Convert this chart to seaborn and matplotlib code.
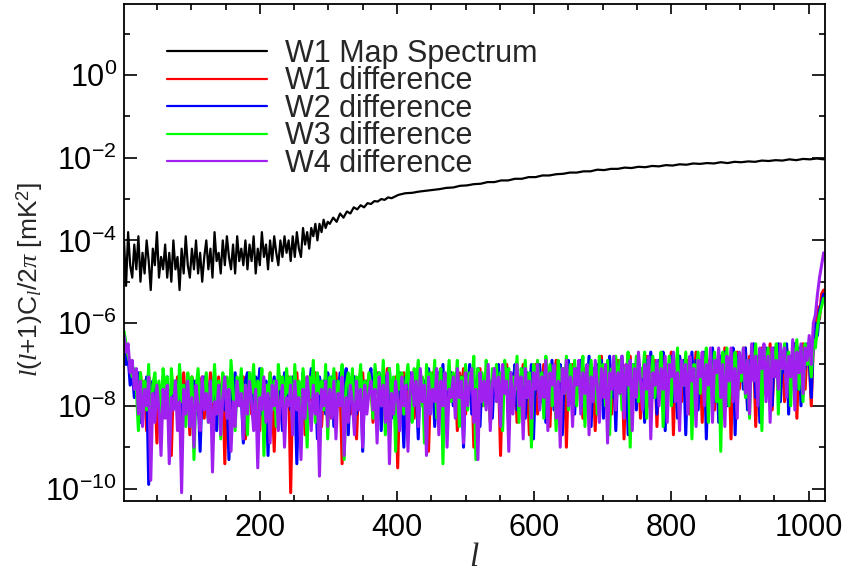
import numpy as np
import pandas as pd
import matplotlib
matplotlib.use("Agg")
import matplotlib.pyplot as plt
import seaborn as sns
from matplotlib.ticker import FixedLocator, NullFormatter, FixedFormatter

# multipoles at which values were read
ell_map = list(range(2, 300, 3)) + list(range(302, 400, 5)) + list(range(402, 1025, 10))
ell_diff = list(range(2, 1025, 3))

# log10 of l(l+1)C_l/2pi [mK^2]
map_log10 = [
    -4.0, -5.1, -3.8, -4.6, -4.9, -4.1, -4.7, -3.9, -5.0, -4.3, -4.8, -4.0, -4.5, -5.2, -4.2, -4.6, -3.8, -4.9, -4.4, -4.7,
    -4.1, -4.9, -4.3, -5.0, -4.0, -4.7, -4.4, -5.2, -4.2, -4.8, -3.9, -4.6, -4.9, -4.2, -4.7, -4.0, -4.8, -4.3, -5.0, -4.4,
    -4.0, -4.7, -4.2, -4.9, -3.8, -4.5, -4.3, -4.8, -4.0, -4.6, -3.9, -4.4, -4.7, -4.1, -4.8, -3.9, -4.5, -4.2, -4.6, -4.0,
    -4.7, -4.1, -4.5, -3.9, -4.8, -4.2, -4.6, -3.8, -4.4, -4.1, -4.7, -4.0, -4.5, -3.9, -4.3, -4.6, -4.0, -4.4, -3.9, -4.3,
    -4.0, -4.5, -3.9, -4.4, -3.8, -4.2, -4.4, -3.7, -4.1, -3.8, -4.2, -3.7, -3.9, -3.6, -4.0, -3.6, -3.8, -3.5, -3.7, -3.55,
    -3.6, -3.45, -3.55, -3.35, -3.45, -3.3, -3.35, -3.2, -3.25, -3.15, -3.2, -3.1, -3.12, -3.05, -3.06, -3.0, -3.02, -2.96, -2.98, -2.94,
    -2.90, -2.86, -2.85, -2.82, -2.80, -2.78, -2.76, -2.73, -2.72, -2.68,
    -2.67, -2.64, -2.63, -2.59, -2.59, -2.55, -2.55, -2.51, -2.51, -2.47,
    -2.47, -2.43, -2.43, -2.40, -2.39, -2.36, -2.36, -2.33, -2.33, -2.29,
    -2.30, -2.27, -2.27, -2.24, -2.25, -2.22, -2.23, -2.20, -2.21, -2.18,
    -2.19, -2.16, -2.17, -2.14, -2.15, -2.13, -2.14, -2.11, -2.13, -2.10,
    -2.11, -2.09, -2.10, -2.07, -2.08, -2.06, -2.07, -2.04, -2.06, -2.03,
    -2.04, -2.02, -2.04,
]

w1_log10 = [
    -6.5, -6.9, -6.7, -7.2, -7.0, -7.5, -7.3, -8.1, -7.2, -7.8, -7.4, -8.6, -7.3, -7.7, -8.0, -7.4, -8.9, -7.5, -7.9, -7.3,
    -8.2, -7.5, -7.8, -9.2, -7.4, -7.9, -7.3, -8.4, -7.6, -7.2, -8.0, -7.5, -8.7, -7.3, -7.8, -7.4, -8.1, -7.6, -7.3, -8.3,
    -7.4, -7.9, -7.2, -8.5, -7.6, -7.8, -7.3, -8.1, -7.5, -9.4, -7.4, -7.7, -7.2, -8.3, -7.6, -7.9, -7.4, -8.0, -7.3, -8.8,
    -7.5, -7.2, -8.2, -7.6, -7.9, -7.4, -8.6, -7.3, -7.8, -7.5, -8.1, -7.2, -7.7, -9.1, -7.4, -7.9, -7.3, -8.4, -7.6, -7.8,
    -7.3, -10.1, -7.5, -7.8, -7.2, -8.2, -7.6, -7.4, -8.7, -7.3, -7.9, -7.5, -8.1, -7.2, -7.7, -7.4, -8.5, -7.6, -7.3, -7.9,
    -8.3, -7.4, -7.8, -7.2, -8.0, -7.5, -9.4, -7.3, -7.7, -7.4, -8.2, -7.6, -7.3, -8.8, -7.5, -7.9, -7.2, -8.1, -7.4, -7.7,
    -7.3, -8.4, -7.6, -7.2, -7.9, -7.4, -8.2, -7.5, -7.1, -8.6, -7.4, -7.8, -7.3, -9.5, -7.5, -7.7, -7.2, -8.0, -7.4, -7.9,
    -7.2, -8.3, -7.5, -7.1, -7.8, -7.4, -8.0, -7.3, -9.1, -7.5, -7.2, -7.9, -7.4, -8.4, -7.1, -7.7, -7.3, -8.1, -7.5, -7.2,
    -7.9, -7.3, -8.6, -7.2, -7.6, -7.1, -8.2, -7.4, -7.8, -7.2, -9.0, -7.4, -7.6, -7.1, -8.0, -7.3, -7.7, -7.2, -8.4, -7.4,
    -7.1, -7.8, -7.3, -9.2, -7.2, -7.6, -7.0, -8.1, -7.4, -7.7, -7.1, -8.4, -7.3, -7.6, -7.0, -7.9, -7.4, -8.7, -7.2, -7.5,
    -7.0, -8.2, -7.3, -7.6, -7.0, -7.9, -7.2, -8.5, -7.1, -7.5, -6.9, -8.0, -7.3, -7.7, -7.1, -9.0, -7.2, -7.5, -7.0, -7.8,
    -7.2, -7.5, -6.9, -8.3, -7.1, -7.6, -7.0, -7.9, -7.3, -8.6, -7.0, -7.4, -6.8, -8.0, -7.2, -7.5, -7.0, -8.2, -7.1, -7.6,
    -6.9, -7.7, -7.1, -8.8, -7.0, -7.4, -6.8, -7.9, -7.2, -7.5, -6.9, -8.3, -7.1, -7.6, -6.8, -8.0, -7.0, -7.4, -6.9, -8.5,
    -7.0, -7.5, -6.8, -8.1, -7.1, -7.4, -6.7, -8.7, -7.0, -7.3, -6.8, -7.9, -7.1, -7.6, -6.9, -8.2, -7.0, -7.4, -6.7, -7.8,
    -7.0, -8.4, -6.8, -7.3, -6.9, -7.7, -6.7, -8.1, -7.0, -7.4, -6.8, -7.9, -6.6, -7.3, -7.0, -8.8, -6.8, -7.5, -6.7, -7.6,
    -6.9, -7.4, -6.6, -8.0, -6.8, -7.3, -6.7, -8.5, -6.9, -7.1, -6.6, -7.7, -6.8, -7.4, -6.5, -8.1, -6.9, -7.2, -6.6, -7.5,
    -6.7, -7.9, -6.6, -7.2, -6.8, -7.5, -6.5, -8.3, -6.7, -7.1, -6.5, -7.6, -6.6, -6.9, -8.0, -6.5, -6.1, -5.6, -5.9, -5.3,
    -5.2,
]

w2_log10 = [
    -6.6, -7.0, -6.8, -7.5, -7.1, -7.8, -7.4, -7.2, -8.4, -7.5, -7.9, -7.3, -9.9, -7.6, -7.4, -8.1, -7.5, -7.8, -8.6, -7.4,
    -7.7, -7.3, -8.3, -7.6, -7.9, -7.4, -8.0, -7.2, -9.0, -7.5, -7.8, -7.3, -8.5, -7.6, -7.4, -8.2, -7.7, -9.1, -7.5, -7.3,
    -7.8, -8.3, -7.4, -7.7, -7.2, -8.6, -7.5, -7.9, -7.3, -8.1, -7.6, -9.3, -7.4, -7.8, -7.2, -8.0, -7.5, -7.7, -8.9, -7.4,
    -7.2, -7.9, -7.5, -8.4, -7.3, -7.7, -7.1, -8.2, -7.6, -7.4, -9.2, -7.5, -7.8, -7.3, -8.0, -7.4, -7.6, -8.6, -7.2, -7.9,
    -7.5, -8.1, -7.3, -7.7, -9.4, -7.5, -7.9, -7.2, -8.3, -7.4, -7.6, -7.1, -8.0, -7.5, -8.8, -7.3, -7.7, -7.4, -8.2, -7.2,
    -7.6, -7.3, -8.5, -7.4, -7.8, -7.2, -8.0, -7.5, -7.1, -8.7, -7.4, -7.7, -7.3, -8.2, -7.5, -7.2, -9.1, -7.4, -7.8, -7.3,
    -7.1, -8.0, -7.4, -7.7, -7.2, -8.6, -7.5, -7.3, -7.9, -7.1, -8.3, -7.6, -7.4, -8.0, -7.2, -7.8, -9.0, -7.3, -7.6, -7.2,
    -7.9, -7.3, -7.6, -8.8, -7.2, -7.7, -7.4, -8.1, -7.1, -7.5, -7.3, -8.5, -7.5, -7.2, -7.8, -7.0, -8.2, -7.4, -7.7, -7.2,
    -8.0, -7.4, -7.2, -7.9, -7.3, -9.0, -7.2, -7.6, -7.0, -8.2, -7.4, -7.8, -7.1, -8.5, -7.3, -7.6, -7.2, -7.9, -7.4, -8.3,
    -7.2, -7.6, -7.0, -8.0, -7.3, -7.7, -7.1, -8.6, -7.2, -7.5, -7.0, -8.1, -7.4, -7.7, -7.1, -8.3, -7.2, -7.6, -7.0, -8.8,
    -7.3, -7.6, -7.0, -7.9, -7.2, -8.4, -7.1, -7.5, -6.9, -8.1, -7.2, -7.6, -7.0, -8.7, -7.1, -7.5, -6.9, -7.8, -7.3, -8.2,
    -7.1, -7.4, -6.9, -8.0, -7.2, -7.7, -6.8, -8.5, -7.1, -7.4, -7.0, -7.9, -6.9, -8.3, -7.2, -7.5, -6.8, -7.8, -7.1, -8.6,
    -7.0, -7.4, -6.8, -7.9, -7.1, -8.7, -6.9, -7.3, -7.0, -8.1, -6.8, -7.5, -7.1, -8.4, -6.9, -7.3, -6.7, -7.8, -7.0, -8.2,
    -6.9, -7.4, -6.7, -8.6, -7.0, -7.3, -6.8, -7.9, -7.1, -8.3, -6.8, -7.5, -6.9, -8.7, -7.0, -7.3, -6.7, -7.8, -6.9, -8.1,
    -6.9, -7.4, -6.7, -8.8, -7.0, -7.3, -6.6, -7.9, -6.9, -8.4, -6.8, -7.2, -6.7, -8.0, -7.0, -7.5, -6.6, -8.7, -6.8, -7.3,
    -6.8, -7.6, -6.6, -8.1, -6.9, -7.2, -6.5, -7.8, -6.8, -8.4, -6.7, -7.1, -6.6, -7.7, -6.9, -8.0, -6.6, -7.3, -6.5, -7.9,
    -6.7, -7.2, -6.5, -8.2, -6.8, -7.0, -6.5, -7.6, -6.6, -8.0, -6.7, -7.1, -6.5, -6.9, -7.8, -6.4, -6.0, -6.3, -5.7, -5.5,
    -5.3,
]

w3_log10 = [
    -6.2, -6.5, -6.8, -7.0, -7.3, -7.1, -7.6, -8.6, -7.2, -7.8, -7.4, -8.1, -7.0, -8.9, -7.5, -7.2, -7.9, -7.4, -8.3, -7.1,
    -7.6, -7.3, -9.0, -7.1, -7.7, -7.4, -8.2, -7.0, -7.9, -7.5, -8.5, -7.2, -7.8, -7.3, -9.3, -7.6, -7.1, -8.0, -7.4, -7.8,
    -7.2, -8.4, -7.5, -7.9, -7.0, -8.1, -7.4, -8.8, -7.2, -7.7, -7.3, -8.3, -6.9, -7.6, -8.6, -7.3, -7.8, -7.1, -8.0, -7.5,
    -8.7, -7.2, -7.7, -7.0, -8.2, -7.4, -7.9, -7.1, -9.2, -7.5, -7.8, -7.2, -8.1, -7.4, -8.5, -7.0, -7.6, -7.3, -8.3, -7.1,
    -7.7, -7.3, -8.6, -7.0, -7.9, -7.4, -8.0, -7.1, -7.6, -9.0, -7.3, -7.8, -6.9, -8.4, -7.2, -7.7, -7.4, -8.1, -7.0, -8.8,
    -7.3, -7.7, -7.1, -8.3, -7.4, -7.9, -7.0, -9.3, -7.5, -7.2, -7.8, -7.1, -8.5, -7.3, -7.6, -7.0, -8.1, -7.4, -7.8, -7.2,
    -7.5, -8.3, -7.0, -7.7, -7.2, -8.0, -6.9, -8.7, -7.4, -7.1, -7.9, -7.3, -9.1, -7.0, -7.6, -7.2, -8.2, -7.4, -7.0, -7.8,
    -8.4, -7.1, -7.5, -6.9, -8.0, -7.3, -8.9, -7.0, -7.6, -7.2, -7.8, -6.9, -8.3, -7.4, -7.1, -9.4, -7.2, -7.6, -6.9, -7.9,
    -7.2, -7.6, -6.9, -8.5, -7.3, -7.8, -7.0, -8.1, -7.2, -7.5, -6.8, -9.3, -7.1, -7.7, -7.2, -8.0, -6.9, -7.4, -8.3, -7.1,
    -7.5, -7.0, -7.9, -7.2, -8.6, -6.9, -7.4, -7.1, -8.1, -7.3, -7.6, -6.8, -8.4, -7.1, -7.5, -6.9, -7.8, -7.2, -9.0, -7.0,
    -7.4, -6.9, -7.8, -7.2, -8.3, -6.8, -7.5, -7.0, -8.0, -7.2, -8.6, -6.9, -7.4, -7.1, -7.7, -6.8, -8.1, -7.0, -7.5, -6.9,
    -8.0, -7.1, -7.4, -6.8, -8.5, -7.0, -7.6, -6.9, -7.8, -7.2, -8.2, -6.8, -7.4, -7.0, -8.0, -6.9, -8.7, -7.1, -7.3, -6.8,
    -7.7, -6.9, -8.1, -7.1, -7.4, -6.7, -9.0, -7.0, -7.5, -6.8, -7.9, -7.1, -7.3, -6.7, -8.3, -7.0, -7.6, -6.8, -7.8, -7.0,
    -7.3, -6.7, -8.5, -7.0, -7.5, -6.8, -8.0, -6.9, -7.3, -6.6, -8.2, -7.0, -7.5, -6.7, -7.8, -6.9, -8.8, -7.0, -7.4, -6.7,
    -7.7, -6.8, -7.3, -6.6, -8.4, -7.0, -7.5, -6.7, -7.9, -6.9, -9.1, -6.7, -7.4, -6.6, -8.0, -6.9, -7.3, -6.7, -8.1, -6.8,
    -7.4, -6.6, -7.8, -6.9, -8.3, -6.7, -7.2, -6.5, -7.7, -6.8, -8.6, -6.6, -7.3, -6.6, -7.9, -6.7, -7.1, -6.5, -8.2, -6.7,
    -7.1, -6.5, -7.5, -6.7, -8.0, -6.6, -7.0, -6.4, -7.6, -6.6, -7.9, -6.5, -7.0, -6.7, -7.3, -6.4, -6.6, -6.1, -5.8, -5.6,
    -5.4,
]

w4_log10 = [
    -6.3, -6.7, -6.5, -7.2, -6.9, -7.6, -7.1, -8.2, -7.4, -8.5, -7.6, -8.0, -7.3, -9.8, -7.7, -8.4, -7.5, -8.1, -9.2, -7.6,
    -8.3, -7.5, -9.4, -7.8, -8.1, -7.4, -8.6, -7.9, -10.1, -7.6, -8.2, -7.4, -8.5, -7.8, -9.0, -7.5, -8.0, -8.6, -7.3, -8.1,
    -7.7, -8.4, -7.4, -9.6, -7.9, -8.2, -7.5, -8.7, -7.8, -7.3, -8.3, -7.6, -9.1, -7.9, -8.5, -7.4, -8.0, -7.7, -8.8, -7.5,
    -8.2, -7.4, -7.9, -8.6, -7.6, -9.5, -7.8, -8.1, -7.3, -8.4, -7.7, -8.9, -7.5, -8.0, -7.4, -8.6, -7.9, -7.5, -9.0, -7.8,
    -8.0, -7.5, -8.7, -7.4, -8.1, -7.8, -9.3, -7.6, -8.3, -7.3, -7.9, -8.6, -7.5, -8.2, -7.7, -9.7, -7.6, -8.0, -7.4, -8.5,
    -7.6, -8.3, -7.4, -8.8, -7.7, -8.0, -7.3, -9.2, -7.8, -8.4, -7.5, -7.9, -8.7, -7.4, -8.1, -7.6, -9.0, -7.5, -8.2, -7.7,
    -7.4, -8.1, -7.6, -8.9, -7.3, -8.0, -7.5, -8.4, -7.2, -9.4, -7.7, -8.2, -7.4, -7.9, -8.6, -7.3, -8.0, -7.5, -9.1, -7.6,
    -7.2, -8.0, -7.4, -8.5, -7.1, -7.9, -7.5, -9.2, -7.3, -8.2, -7.6, -7.9, -7.1, -8.7, -7.4, -8.0, -7.2, -9.0, -7.6, -7.8,
    -7.3, -8.3, -7.1, -7.8, -7.4, -8.9, -7.2, -8.0, -7.5, -7.1, -8.4, -7.6, -9.3, -7.2, -7.9, -7.4, -8.1, -7.0, -8.6, -7.5,
    -7.1, -7.9, -7.3, -8.5, -7.0, -7.7, -7.4, -9.1, -7.2, -8.2, -7.5, -7.0, -8.0, -7.3, -8.8, -7.1, -7.8, -7.4, -8.3, -7.2,
    -7.6, -7.0, -8.1, -7.3, -7.8, -6.9, -8.6, -7.2, -7.5, -7.0, -8.3, -7.4, -9.0, -7.1, -7.7, -6.9, -8.0, -7.3, -8.5, -7.1,
    -7.5, -6.9, -8.2, -7.2, -7.7, -7.0, -8.7, -7.3, -7.9, -6.9, -7.5, -8.4, -7.1, -7.8, -7.0, -8.9, -7.2, -7.6, -6.8, -8.1,
    -7.2, -7.7, -6.8, -8.3, -7.0, -7.5, -6.9, -8.6, -7.1, -7.8, -6.7, -7.4, -8.1, -7.0, -7.6, -6.8, -8.8, -7.2, -7.5, -6.9,
    -8.0, -7.1, -7.6, -6.8, -8.4, -7.0, -7.3, -6.7, -7.9, -7.2, -8.6, -6.9, -7.5, -7.0, -8.2, -6.8, -7.4, -7.1, -8.5, -6.9,
    -7.3, -6.7, -8.0, -7.0, -7.5, -6.6, -8.4, -6.9, -7.2, -6.6, -7.8, -7.0, -8.5, -6.8, -7.4, -6.6, -7.9, -7.1, -8.3, -6.7,
    -7.2, -6.6, -7.7, -6.9, -8.2, -6.5, -7.4, -6.8, -8.0, -6.6, -7.1, -6.5, -7.9, -6.8, -8.4, -6.6, -7.3, -6.9, -7.6, -6.5,
    -7.1, -6.6, -7.8, -6.8, -7.3, -6.4, -8.1, -6.7, -7.2, -6.5, -7.7, -6.6, -6.9, -6.3, -7.0, -6.0, -5.8, -5.3, -4.9, -4.6,
    -4.3,
]

labels = ["W1 Map Spectrum", "W1 difference", "W2 difference", "W3 difference", "W4 difference"]
colors = ["black", "#ff0000", "#0000ff", "#00ff00", "#a020f0"]
widths = [1.6, 2.2, 2.2, 2.2, 2.2]
all_series = [map_log10, w1_log10, w2_log10, w3_log10, w4_log10]
all_ell = [ell_map, ell_diff, ell_diff, ell_diff, ell_diff]

ymajor = [1e0, 1e-2, 1e-4, 1e-6, 1e-8, 1e-10]
ymajor_labels = [r"$\mathdefault{10^{0}}$", r"$\mathdefault{10^{-2}}$", r"$\mathdefault{10^{-4}}$",
                 r"$\mathdefault{10^{-6}}$", r"$\mathdefault{10^{-8}}$", r"$\mathdefault{10^{-10}}$"]
yminor = [1e1, 1e-1, 1e-3, 1e-5, 1e-7, 1e-9]
xmajor = [200, 400, 600, 800, 1000]

sns.set_style("ticks")
plt.rcParams["font.family"] = ["Liberation Sans", "DejaVu Sans"]
plt.rcParams["mathtext.fontset"] = "custom"
plt.rcParams["mathtext.rm"] = "Liberation Sans"
plt.rcParams["mathtext.it"] = "Liberation Serif:italic"
plt.rcParams["mathtext.bf"] = "Liberation Sans:bold"

fig = plt.figure(figsize=(8.43, 5.75), dpi=100)
ax = fig.add_axes([124 / 843, 1 - 501 / 575, 701 / 843, 497 / 575])

for name, xs, vals, col, lw in zip(labels, all_ell, all_series, colors, widths):
    n = min(len(xs), len(vals))
    df = pd.DataFrame({"l": xs[:n], "v": np.power(10.0, np.array(vals[:n]))})
    sns.lineplot(data=df, x="l", y="v", ax=ax, color=col, lw=lw, label=name,
                 estimator=None, sort=False)

ax.set_yscale("log")
ax.set_xlim(2, 1024)
ax.set_ylim(5e-11, 52)

ax.xaxis.set_major_locator(FixedLocator(xmajor))
ax.xaxis.set_minor_locator(FixedLocator(list(range(50, 1024, 50))))
ax.yaxis.set_major_locator(FixedLocator(ymajor))
ax.yaxis.set_major_formatter(FixedFormatter(ymajor_labels))
ax.yaxis.set_minor_locator(FixedLocator(yminor))
ax.yaxis.set_minor_formatter(NullFormatter())

ax.tick_params(which="both", direction="in", top=True, right=True, width=1.2, colors="black")
ax.tick_params(axis="x", which="major", length=7, labelsize=22, pad=9)
ax.tick_params(axis="x", which="minor", length=4)
ax.tick_params(axis="y", which="major", length=9.5, labelsize=22, pad=5)
ax.tick_params(axis="y", which="minor", length=4.5)
for sp in ax.spines.values():
    sp.set_linewidth(1.3)
    sp.set_color("black")

ax.set_xlabel(r"$l$", fontsize=24)
ax.set_ylabel(r"$l$($l$+1)C$_l$/2$\pi$ [mK$^2$]", fontsize=19)
ax.xaxis.set_label_coords(0.5, -0.083)
ax.yaxis.set_label_coords(-0.112, 0.445)

leg = ax.legend(loc="upper left", bbox_to_anchor=(0.061, 0.93), frameon=False, fontsize=22,
                handlelength=3.27, handletextpad=0.59, labelspacing=-0.08, borderpad=0, borderaxespad=0)
for h in leg.get_lines():
    h.set_linewidth(1.6)

fig.savefig("out.png", dpi=100)
